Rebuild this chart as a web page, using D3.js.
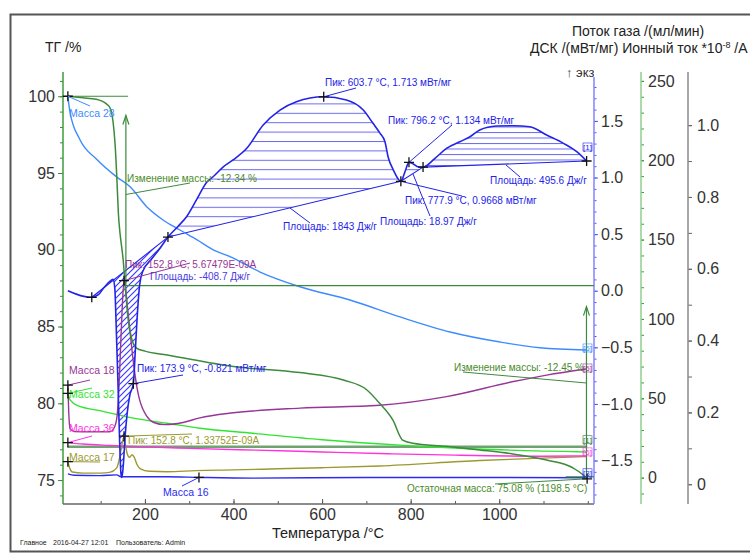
<!DOCTYPE html>
<html><head><meta charset="utf-8">
<script src="https://cdn.jsdelivr.net/npm/d3@7"></script>
<style>
body{margin:0;background:#fff}
svg{display:block;font-family:Arial,"Liberation Sans",sans-serif}
</style>
</head><body>
<svg id="chart" width="750" height="554"></svg>
<script>
// ---- tick labels ----
const tempTicks = [200, 400, 600, 800, 1000];
const tgTicks = [75, 80, 85, 90, 95, 100];
const dscTicks = [-1.5, -1.0, -0.5, 0.0, 0.5, 1.0, 1.5];
const gasTicks = [0, 50, 100, 150, 200, 250];
const ionTicks = [0, 0.2, 0.4, 0.6, 0.8, 1.0];

// ---- series: [temperature °C, value] ----
const tgCurve = [[26,100.0],[60,99.9],[90,99.8],[113,99.5],[120,99.3],[125,98.9],[130,97.8],[133,96.7],[137,94.4],[140,92.4],[144,91.0],[147,90.3],[151,89.3],[155,87.8],[162,85.5],[170,84.2],[181,83.6],[200,83.4],[250,83.15],[400,82.4],[550,82.0],[650,81.5],[700,80.9],[730,80.0],[760,78.9],[782,77.6],[805,77.4],[880,77.2],[956,76.96],[1030,76.7],[1107,76.3],[1166,75.8],[1189,75.35],[1198.5,75.08]];

const dscCurve = [[26,0.0],[45,-0.03],[62,-0.05],[80,-0.058],[95,-0.035],[108,0.03],[120,0.08],[128,0.10],[132,0.02],[135,-0.3],[139,-0.8],[143,-1.35],[146,-1.62],[148,-1.65],[151,-1.55],[155,-1.3],[160,-1.08],[166,-0.92],[173.9,-0.821],[178,-0.55],[183,-0.2],[188,0.05],[195,0.17],[215,0.28],[235,0.38],[252,0.474],[275,0.57],[294,0.654],[316,0.80],[340,0.96],[354,1.007],[377,1.095],[399,1.155],[430,1.258],[467,1.464],[505,1.596],[542,1.670],[603.7,1.713],[655,1.685],[693,1.596],[715,1.479],[731,1.39],[742,1.316],[749,1.184],[761,1.066],[777.9,0.9668],[788,1.06],[796.2,1.134],[806,1.12],[816,1.095],[828,1.092],[855,1.17],[881,1.258],[911,1.316],[934,1.36],[956,1.42],[994,1.455],[1032,1.458],[1069,1.449],[1107,1.375],[1145,1.302],[1175,1.228],[1197.3,1.146]];

const mass28 = [[26,1.079],[31,1.035],[53,0.96],[91,0.905],[136,0.856],[166,0.829],[204,0.773],[241,0.736],[279,0.708],[317,0.681],[354,0.653],[392,0.634],[460,0.591],[550,0.550],[663,0.513],[776,0.466],[889,0.424],[1002,0.396],[1092,0.380],[1196,0.374]];
const mass18 = [[26,0.276],[28,0.20],[31,0.155],[40,0.147],[80,0.146],[121,0.146],[128,0.152],[136,0.18],[141,0.26],[145,0.38],[149,0.50],[152.8,0.567],[156,0.55],[160,0.50],[166,0.43],[172,0.36],[177,0.31],[182,0.27],[188,0.235],[195,0.21],[204,0.19],[220,0.172],[245,0.166],[286,0.172],[324,0.185],[400,0.199],[550,0.212],[730,0.22],[881,0.244],[1032,0.286],[1107,0.304],[1196,0.321]];
const mass32 = [[26,0.253],[31,0.235],[50,0.218],[98,0.205],[174,0.184],[249,0.170],[324,0.156],[444,0.142],[600,0.124],[776,0.109],[950,0.098],[1196,0.09]];
const mass36 = [[26,0.116],[60,0.112],[120,0.108],[200,0.104],[300,0.100],[450,0.095],[600,0.090],[750,0.085],[900,0.081],[1100,0.078],[1196,0.079]];
const mass17 = [[26,0.063],[30,0.045],[36,0.034],[60,0.031],[100,0.031],[120,0.033],[136,0.045],[143,0.075],[148,0.11],[152.8,0.134],[156,0.11],[160,0.085],[165,0.075],[171,0.082],[176,0.075],[182,0.055],[190,0.043],[210,0.036],[250,0.035],[315,0.038],[400,0.040],[500,0.043],[600,0.046],[730,0.051],[956,0.066],[1080,0.072],[1196,0.077]];
const mass16 = [[26,0.029],[40,0.025],[98,0.024],[136,0.026],[146,0.021],[160,0.021],[249,0.021],[324,0.019],[444,0.017],[700,0.019],[1000,0.019],[1196,0.018]];
const gasFlow = [[26,19.5],[1198.5,19.5]];

// integration ranges on the DSC curve [start, end]
const dscAreas = [[80,252],[252,777.9],[777.9,828],[828,1197.3]];
// mass steps on the TG curve
const tgLevels = [100.0, 87.66, 75.21];
const residual = [1198.5, 75.08];

// ---- layout ----
const svg = d3.select('#chart');
const L = 63, R = 594, TOP = 72, B = 504;
const x = d3.scaleLinear().domain([15, 1214]).range([L, R]);
const yTG = d3.scaleLinear().domain([73.44, 101.58]).range([B, TOP]);
const yDSC = d3.scaleLinear().domain([-1.884, 1.888]).range([B, 77]);
const yGas = d3.scaleLinear().domain([-16.6, 255.6]).range([B, TOP]);
const yIon = d3.scaleLinear().domain([-0.055, 1.148]).range([B, TOP]);

const C = {
  tg:'#3d8a3d', dsc:'#2323e8', m28:'#3d8bff', m18:'#963696', m32:'#2fe52f',
  m36:'#ff33dd', m17:'#9a9a30', m16:'#2b2bf0', gas:'#6fa36f', txt:'#222'
};

// outer frame
svg.append('rect').attr('x',10.5).attr('y',14.5).attr('width',760).attr('height',537)
  .attr('fill','none').attr('stroke','#555').attr('stroke-width',2);

const defs = svg.append('defs');
const hp = defs.append('pattern').attr('id','hatchH').attr('patternUnits','userSpaceOnUse')
  .attr('width',20).attr('height',9.4);
hp.append('line').attr('x1',0).attr('x2',20).attr('y1',0.5).attr('y2',0.5)
  .attr('stroke','#6a6af0').attr('stroke-width',1);
const hp2 = defs.append('pattern').attr('id','hatchH2').attr('patternUnits','userSpaceOnUse')
  .attr('width',20).attr('height',5.5);
hp2.append('line').attr('x1',0).attr('x2',20).attr('y1',0.5).attr('y2',0.5)
  .attr('stroke','#6a6af0').attr('stroke-width',1);
const dp = defs.append('pattern').attr('id','hatchD').attr('patternUnits','userSpaceOnUse')
  .attr('width',6).attr('height',6);
dp.append('path').attr('d','M-1,1 L1,-1 M0,6 L6,0 M5,7 L7,5')
  .attr('stroke','#3a3aff').attr('stroke-width',1.2);
defs.append('clipPath').attr('id','plotClip').append('rect')
  .attr('x',L).attr('y',TOP-10).attr('width',R-L).attr('height',B-TOP+10);

// ---- axes ----
function styleAxis(g){ g.select('.domain').remove(); g.selectAll('text').attr('fill','#333').style('font-size','16px').style('font-family','Arial'); }

// TG (left)
svg.append('g').attr('transform',`translate(${L},0)`)
  .call(d3.axisLeft(yTG).tickValues(d3.range(74,102,1)).tickSize(3).tickFormat(''))
  .call(g=>{g.select('.domain').remove(); g.selectAll('line').attr('stroke',C.tg);});
svg.append('g').attr('transform',`translate(${L},0)`)
  .call(d3.axisLeft(yTG).tickValues(tgTicks).tickSize(5).tickPadding(3).tickFormat(d3.format('d')))
  .call(styleAxis).call(g=>g.selectAll('line').attr('stroke',C.tg));
svg.append('line').attr('x1',L).attr('x2',L).attr('y1',TOP).attr('y2',B).attr('stroke','#3c9c3c').attr('stroke-width',1.5);

// temperature (bottom)
svg.append('g').attr('transform',`translate(0,${B})`)
  .call(d3.axisBottom(x).tickValues(d3.range(100,1201,100)).tickSizeInner(-3).tickSizeOuter(0).tickFormat(''))
  .call(g=>{g.select('.domain').remove(); g.selectAll('line').attr('stroke','#555');});
svg.append('g').attr('transform',`translate(0,${B})`)
  .call(d3.axisBottom(x).tickValues(tempTicks).tickSizeInner(-5).tickSizeOuter(0).tickPadding(5).tickFormat(d3.format('d')))
  .call(styleAxis).call(g=>g.selectAll('line').attr('stroke','#555'));
svg.append('line').attr('x1',L).attr('x2',R).attr('y1',B).attr('y2',B).attr('stroke','#666').attr('stroke-width',1.5);

// DSC (right, inner)
svg.append('g').attr('transform',`translate(${R},0)`)
  .call(d3.axisRight(yDSC).tickValues(d3.range(-18,19,1).map(d=>d/10)).tickSize(2.5).tickFormat(''))
  .call(g=>{g.select('.domain').remove(); g.selectAll('line').attr('stroke','#5555ee');});
svg.append('g').attr('transform',`translate(${R},0)`)
  .call(d3.axisRight(yDSC).tickValues(dscTicks).tickSize(4).tickPadding(3).tickFormat(d3.format('.1f')))
  .call(styleAxis).call(g=>g.selectAll('line').attr('stroke','#5555ee'));
svg.append('line').attr('x1',R).attr('x2',R).attr('y1',77).attr('y2',B).attr('stroke','#8585ff').attr('stroke-width',1.5);

// gas flow
const GX = 641;
svg.append('g').attr('transform',`translate(${GX},0)`)
  .call(d3.axisRight(yGas).tickValues(d3.range(-10,256,10)).tickSize(3).tickFormat(''))
  .call(g=>{g.select('.domain').remove(); g.selectAll('line').attr('stroke','#3a9a3a');});
svg.append('g').attr('transform',`translate(${GX},0)`)
  .call(d3.axisRight(yGas).tickValues(gasTicks).tickSize(3).tickPadding(4).tickFormat(d3.format('d')))
  .call(styleAxis).call(g=>g.selectAll('line').attr('stroke','#3a9a3a'));
svg.append('line').attr('x1',GX).attr('x2',GX).attr('y1',TOP).attr('y2',B).attr('stroke','#8fcf8f').attr('stroke-width',1.5);

// ion current
const IX = 688;
svg.append('g').attr('transform',`translate(${IX},0)`)
  .call(d3.axisRight(yIon).tickValues(d3.range(0,11,1).map(d=>d/10)).tickSize(4).tickFormat(''))
  .call(g=>{g.select('.domain').remove(); g.selectAll('line').attr('stroke','#666');});
svg.append('g').attr('transform',`translate(${IX},0)`)
  .call(d3.axisRight(yIon).tickValues(ionTicks).tickSize(4).tickPadding(5).tickFormat(d=>d===0?'0':d3.format('.1f')(d)))
  .call(styleAxis).call(g=>g.selectAll('line').attr('stroke','#666'));
svg.append('line').attr('x1',IX).attr('x2',IX).attr('y1',TOP).attr('y2',B).attr('stroke','#8a8a8a').attr('stroke-width',1.5);

// axis titles
const tt = (t,px,py,size,anchor)=>svg.append('text').attr('x',px).attr('y',py).attr('fill',C.txt)
  .style('font-size',size+'px').attr('text-anchor',anchor||'start').text(t);
tt('ТГ /%',45,52,14);
tt('Поток газа /(мл/мин)',572,36,14);
const t2 = svg.append('text').attr('x',530).attr('y',53).attr('fill',C.txt).style('font-size','14px');
t2.append('tspan').text('ДСК /(мВт/мг)  Ионный ток *10');
t2.append('tspan').attr('dy',-5).style('font-size','9px').text('-8');
t2.append('tspan').attr('dy',5).text(' /А');
defs.append('clipPath').attr('id','exoClip').append('rect').attr('x',550).attr('y',55).attr('width',44).attr('height',30);
svg.append('text').attr('x',566).attr('y',77).attr('fill','#333').style('font-size','13px')
  .attr('clip-path','url(#exoClip)').text('↑ экз.');
tt('Температура /°C',328,538,14.5,'middle');
const foot = svg.append('g').style('font-size','7px').attr('fill','#222');
foot.append('text').attr('x',20).attr('y',545).text('Главное');
foot.append('text').attr('x',53).attr('y',545).text('2016-04-27 12:01');
foot.append('text').attr('x',116).attr('y',545).text('Пользователь: Admin');

// ---- plot content ----
const plot = svg.append('g').attr('clip-path','url(#plotClip)');
const lineOf = ys => d3.line().x(d=>x(d[0])).y(d=>ys(d[1])).curve(d3.curveMonotoneX);

// DSC integration areas
function areaPts(a,b){ return dscCurve.filter(d=>d[0]>=a-1e-9 && d[0]<=b+1e-9); }
dscAreas.forEach(([a,b],i)=>{
  const pts = areaPts(a,b);
  const v0 = pts[0][1], v1 = pts[pts.length-1][1];
  const base = t => v0 + (v1-v0)*(t-a)/(b-a);
  const ar = d3.area().x(d=>x(d[0])).y0(d=>yDSC(base(d[0]))).y1(d=>yDSC(d[1])).curve(d3.curveMonotoneX);
  plot.append('path').datum(pts).attr('d',ar)
    .attr('fill', i===0?'url(#hatchD)':(i===3?'url(#hatchH2)':'url(#hatchH)'))
    .attr('stroke','none');
  plot.append('line').attr('x1',x(a)).attr('x2',x(b)).attr('y1',yDSC(v0)).attr('y2',yDSC(v1))
    .attr('stroke',C.dsc).attr('stroke-width',1.1);
});

// gas flow
plot.append('path').datum(gasFlow).attr('d',lineOf(yGas)).attr('fill','none').attr('stroke',C.gas).attr('stroke-width',2.5);

// ion currents
[[mass16,C.m16],[mass17,C.m17],[mass36,C.m36],[mass32,C.m32],[mass18,C.m18],[mass28,C.m28]].forEach(([d,c])=>{
  plot.append('path').datum(d).attr('d',lineOf(yIon)).attr('fill','none').attr('stroke',c).attr('stroke-width',1.4);
});

// TG mass-step guides
const tgLine = (t1,t2,v)=>plot.append('line').attr('x1',x(t1)).attr('x2',x(t2)).attr('y1',yTG(v)).attr('y2',yTG(v)).attr('stroke',C.tg).attr('stroke-width',1.2);
tgLine(26,162,tgLevels[0]);
tgLine(155,1214,tgLevels[1]);
tgLine(1150,1214,tgLevels[2]);
function arrow(t,vFrom,vTo){
  const xx=x(t), y1=yTG(vFrom), y2=yTG(vTo);
  plot.append('line').attr('x1',xx).attr('x2',xx).attr('y1',y1).attr('y2',y2).attr('stroke',C.tg).attr('stroke-width',1.2);
  plot.append('path').attr('d',`M${xx-3},${y2+9} L${xx},${y2} L${xx+3},${y2+9}`).attr('fill','none').attr('stroke',C.tg).attr('stroke-width',1.2);
}
arrow(157,tgLevels[1],98.75);
arrow(1197,tgLevels[2],86.3);

// TG and DSC
plot.append('path').datum(tgCurve).attr('d',lineOf(yTG)).attr('fill','none').attr('stroke',C.tg).attr('stroke-width',1.5);
plot.append('path').datum(dscCurve).attr('d',lineOf(yDSC)).attr('fill','none').attr('stroke',C.dsc).attr('stroke-width',1.6);

// ---- markers and labels ----
const cross = (px,py)=>svg.append('path').attr('d',`M${px-5},${py} H${px+5} M${px},${py-5} V${py+5}`).attr('stroke','#111').attr('stroke-width',1.3);
const valAt = (arr,t)=>{ const i=d3.bisector(d=>d[0]).left(arr,t); if(arr[i] && arr[i][0]===t) return arr[i][1]; const a=arr[i-1],b=arr[i]; return a[1]+(b[1]-a[1])*(t-a[0])/(b[0]-a[0]); };
const P = (arr,ys,t)=>[x(t), ys(valAt(arr,t))];

const lead = (p,q,c)=>svg.append('line').attr('x1',p[0]).attr('y1',p[1]).attr('x2',q[0]).attr('y2',q[1]).attr('stroke',c).attr('stroke-width',1);
const lab = (t,px,py,c,size)=>svg.append('text').attr('x',px).attr('y',py).attr('fill',c).style('font-size',(size||10)+'px').text(t);

// DSC annotations
const pk1 = P(dscCurve,yDSC,603.7), pk2 = P(dscCurve,yDSC,796.2), pk3 = P(dscCurve,yDSC,777.9), pk4 = P(dscCurve,yDSC,173.9);
lead(pk1,[356,88],C.dsc); lab('Пик: 603.7 °C, 1.713 мВт/мг',325,86,C.dsc);
lead(pk2,[452,125],C.dsc); lab('Пик: 796.2 °C, 1.134 мВт/мг',388,124,C.dsc);
lead(pk3,[462,196],C.dsc); lab('Пик: 777.9 °C, 0.9668 мВт/мг',405,204,C.dsc);
lead([413,174],[430,216],C.dsc); lab('Площадь: 18.97 Дж/г',380,225,C.dsc);
lead([506,165],[520,177],C.dsc); lab('Площадь: 495.6 Дж/г',490,184,C.dsc);
lead([290,208],[310,223],C.dsc); lab('Площадь: 1843 Дж/г',283,230,C.dsc);
lead(pk4,[183,375],C.dsc); lab('Пик: 173.9 °C, -0.821 мВт/мг',137,372,C.dsc);
lab('Площадь: -408.7 Дж/г',150,280,'#4a3ae0');
[80,173.9,252,603.7,777.9,796.2,828,1197.3].forEach(t=>{ const p=P(dscCurve,yDSC,t); cross(p[0],p[1]); });

// TG annotations
lead([x(157),yTG(93.6)],[190,183],C.tg); lab('Изменение массы: -12.34 %',127,182,'#4a8a2a');
lead([463,372],[x(1197),383],C.tg); lab('Изменение массы: -12.45 %',454,371,'#4a8a2a');
lead([495,484],[x(residual[0]),yTG(residual[1])],C.tg); lab('Остаточная масса: 75.08 % (1198.5 °C)',407,492,'#4a8a2a');
cross(x(26),yTG(100)); cross(x(residual[0]),yTG(residual[1]));

// ion current annotations
const p18 = P(mass18,yIon,152.8), p17 = P(mass17,yIon,152.8);
lead(p18,[190,263],C.m18); lab('Пик: 152.8 °C, 5.67479E-09A',125,268,C.m18);
lead(p17,[192,434],C.m17); lab('Пик: 152.8 °C, 1.33752E-09A',128,444,C.m17);
cross(p18[0],p18[1]); cross(p17[0],p17[1]);

const s18=P(mass18,yIon,26), s32=P(mass32,yIon,26), s36=P(mass36,yIon,26), s17=P(mass17,yIon,26), s16=P(mass16,yIon,322);
lead([x(26),yTG(100)],[90,106],C.m28); lab('Масса 28',69,117,C.m28,10.5);
lead(s18,[90,380],C.m18); lab('Масса 18',69,374,C.m18,10.5);
lead(s32,[92,388],C.m32); lab('Масса 32',69,398,C.m32,10.5);
lead(s36,[92,436],C.m36); lab('Масса 36',69,432,C.m36,10.5);
lead(s17,[100,462],C.m17); lab('Масса 17',69,461,C.m17,10.5);
lead(s16,[182,486],C.m16); lab('Масса 16',163,496,C.m16,10.5);
[s18,s32,s36,s17,s16].forEach(p=>cross(p[0],p[1]));

// end-of-curve tags
const tag = (t,py,c)=>{ const g=svg.append('g');
  g.append('rect').attr('x',583).attr('y',py-7).attr('width',9).attr('height',8).attr('fill','none').attr('stroke',c).attr('stroke-width',0.6);
  g.append('text').attr('x',592).attr('y',py).attr('text-anchor','end').attr('fill',c).style('font-size','8px').text(t); };
tag('[1]',yDSC(1.146)-11,C.dsc);
tag('[6]',yIon(0.374)+1,C.m28);
tag('[5]',yIon(0.321)+2,C.m18);
tag('[1]',yGas(19.5)-4,'#3a7a3a');
tag('[6]',yIon(0.079)-1,C.m36);
tag('[3]',yIon(0.018)-2,C.m16);
</script>
</body></html>
